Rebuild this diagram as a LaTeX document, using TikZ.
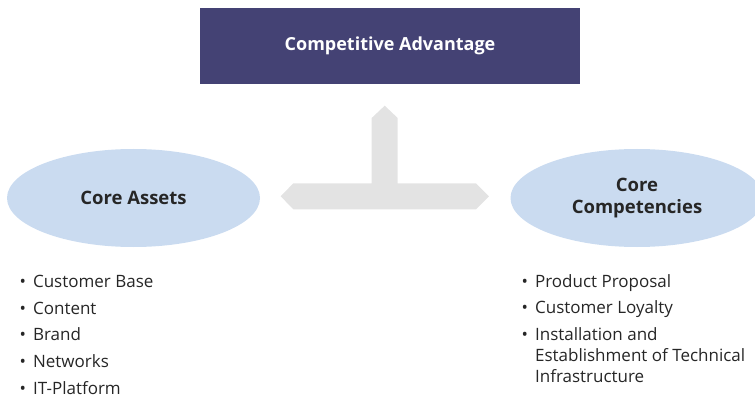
\documentclass[tikz,border=0pt]{standalone}
\usepackage{fontspec}
\setmainfont{Open Sans}
\usetikzlibrary{shapes.geometric}
\definecolor{boxblue}{HTML}{444274}
\definecolor{ellblue}{HTML}{CADBF0}
\definecolor{arrgray}{HTML}{E3E3E3}
\definecolor{txt}{HTML}{262626}
\newcommand{\bulitem}{\textbullet\hspace{7pt}}
\tikzset{
  topbox/.style={fill=boxblue, draw=none, minimum width=380pt, minimum height=76pt, inner sep=0pt, text=white, font=\fontsize{18}{22}\selectfont\bfseries},
  ell/.style={ellipse, fill=ellblue, draw=none, minimum width=253pt, minimum height=98pt, inner sep=0pt, text=txt, font=\fontsize{18.5}{22}\selectfont\bfseries, align=center},
  bul/.style={anchor=north west, inner sep=0pt, text=txt, font=\fontsize{17}{21}\selectfont, align=left}
}
\begin{document}
\begin{tikzpicture}[x=1pt,y=-1pt]
\useasboundingbox (0,0) rectangle (755,401);
\node[topbox] (ca) at (390,46) {Competitive Advantage};
% T-shaped double arrow
\fill[arrgray] (371.7,118) -- (384.7,105.7) -- (397.7,118) -- (397.7,183.3) -- (476,183.3) -- (489,196.3) -- (476,209.3) -- (293.3,209.3) -- (280.7,196.3) -- (293.3,183.3) -- (371.7,183.3) -- cycle;
\node[ell] (assets) at (133.5,198) {Core Assets};
\node[ell] (comp) at (637,198) {Core\\Competencies};
\node[bul] (la) at (19.5,275) {%
\bulitem Customer Base\\[5.7pt]
\bulitem Content\\[5.7pt]
\bulitem Brand\\[5.7pt]
\bulitem Networks\\[5.7pt]
\bulitem IT-Platform};
\node[bul] (ra) at (521.5,274) {%
\bulitem Product Proposal\\[5.7pt]
\bulitem Customer Loyalty\\[5.7pt]
\bulitem Installation and\\
\phantom{\bulitem}Establishment of Technical\\
\phantom{\bulitem}Infrastructure};
\end{tikzpicture}
\end{document}
